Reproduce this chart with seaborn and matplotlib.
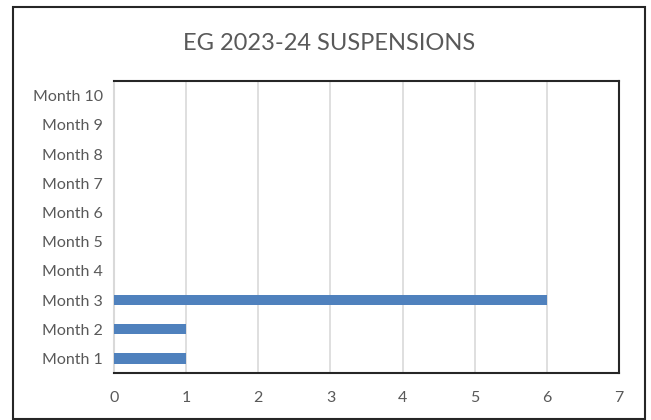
import matplotlib
matplotlib.use("Agg")
import matplotlib.pyplot as plt
import seaborn as sns
import pandas as pd
from matplotlib.patches import Rectangle

categories = ["Month 1", "Month 2", "Month 3", "Month 4", "Month 5",
              "Month 6", "Month 7", "Month 8", "Month 9", "Month 10"]
values = [1, 1, 6, 0, 0, 0, 0, 0, 0, 0]
x_ticks = [0, 1, 2, 3, 4, 5, 6, 7]
title = "EG 2023-24 SUSPENSIONS"

sns.set_theme(style="white")
plt.rcParams['font.family'] = ['Lato', 'DejaVu Sans']

df = pd.DataFrame({"month": categories, "count": values})
order = categories[::-1]

fig = plt.figure(figsize=(6.51, 4.20), dpi=100)
ax = fig.add_axes([114/651, 1-373/420, (619-114)/651, (373-81)/420])

sns.barplot(data=df, y="month", x="count", order=order, orient="h",
            color="#4F81BD", saturation=1, width=0.35, linewidth=0,
            ax=ax, zorder=3)

ax.set_xlim(0, 7)
ax.set_xticks(x_ticks)
ax.set_xticklabels([str(t) for t in x_ticks])
ax.set_xlabel("")
ax.set_ylabel("")
ax.grid(axis="x", color="#D9D9D9", linewidth=1.2, zorder=0)
ax.grid(axis="y", visible=False)
ax.tick_params(axis="both", length=0, labelsize=11.5, labelcolor="#595959")
ax.tick_params(axis="x", pad=13)
ax.tick_params(axis="y", pad=8)
for s in ["top", "right", "bottom"]:
    ax.spines[s].set_color("#262626")
    ax.spines[s].set_linewidth(1.5)
ax.spines["left"].set_color("#D9D9D9")
ax.spines["left"].set_linewidth(1.5)

fig.text(329/651, 1-43/420, title, ha="center", va="center",
         fontsize=17, color="#595959")

fig.patches.append(Rectangle((13/651, 1-419/420), (645-13)/651, (419-7)/420,
                             transform=fig.transFigure, fill=False,
                             edgecolor="#262626", linewidth=1.5))

fig.savefig("out.png", dpi=100)
